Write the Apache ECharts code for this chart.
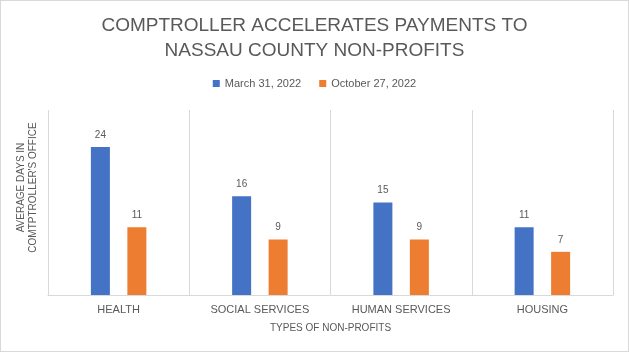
<!DOCTYPE html>
<html>
<head>
<meta charset="utf-8">
<script src="https://cdn.jsdelivr.net/npm/echarts@6/dist/echarts.min.js"></script>
<style>
  html, body { margin: 0; padding: 0; background: #fff; }
  #chart { width: 629px; height: 352px; position: absolute; left: 0; top: 0; }
  #frame { position: absolute; left: 0; top: 0; width: 629px; height: 352px;
           box-sizing: border-box; border: 1px solid #d9d9d9; pointer-events: none; }
</style>
</head>
<body>
<div id="chart"></div>
<div id="frame"></div>
<script>
const categories = ['HEALTH', 'SOCIAL SERVICES', 'HUMAN SERVICES', 'HOUSING']
const march2022 = [24, 16, 15, 11]
const october2022 = [11, 9, 9, 7]

const textColor = '#595959'
const font = 'Liberation Sans'

const chart = echarts.init(document.getElementById('chart'))

chart.setOption({
  animation: false,
  backgroundColor: '#fff',
  title: {
    text: 'COMPTROLLER ACCELERATES PAYMENTS TO\nNASSAU COUNTY NON-PROFITS',
    left: 'center',
    top: 8,
    textStyle: {
      fontFamily: font,
      fontSize: 19,
      fontWeight: 'normal',
      color: textColor,
      lineHeight: 25,
      align: 'center'
    }
  },
  legend: {
    top: 73,
    left: 'center',
    icon: 'rect',
    itemWidth: 7,
    itemHeight: 7,
    itemGap: 18,
    textStyle: { fontFamily: font, fontSize: 11, color: textColor }
  },
  grid: {
    left: 48,
    right: 16,
    top: 110,
    bottom: 57
  },
  xAxis: {
    type: 'category',
    data: categories,
    name: 'TYPES OF NON-PROFITS',
    nameLocation: 'middle',
    nameGap: 28,
    nameTextStyle: { fontFamily: font, fontSize: 10, color: textColor },
    axisLine: { lineStyle: { color: '#d9d9d9' } },
    axisTick: { show: false },
    axisLabel: { fontFamily: font, fontSize: 11, color: textColor, margin: 9 },
    splitLine: { show: true, lineStyle: { color: '#d9d9d9' } }
  },
  yAxis: {
    type: 'value',
    min: 0,
    max: 30,
    name: 'AVERAGE DAYS IN\nCOMTPTROLLER\'S OFFICE',
    nameLocation: 'middle',
    nameGap: 9,
    nameRotate: 90,
    nameTextStyle: { fontFamily: font, fontSize: 10, color: textColor, lineHeight: 12, padding: [0, 0, 0, 30] },
    axisLine: { show: false },
    axisTick: { show: false },
    axisLabel: { show: false },
    splitLine: { show: false }
  },
  series: [
    {
      name: 'March 31, 2022',
      type: 'bar',
      data: march2022,
      barWidth: 19,
      barGap: '92%',
      itemStyle: { color: '#4472C4' },
      label: { show: true, position: 'top', distance: 7, fontFamily: font, fontSize: 10, color: textColor }
    },
    {
      name: 'October 27, 2022',
      type: 'bar',
      data: october2022,
      barWidth: 19,
      barGap: '92%',
      itemStyle: { color: '#ED7D31' },
      label: { show: true, position: 'top', distance: 7, fontFamily: font, fontSize: 10, color: textColor }
    }
  ]
})
</script>
</body>
</html>
